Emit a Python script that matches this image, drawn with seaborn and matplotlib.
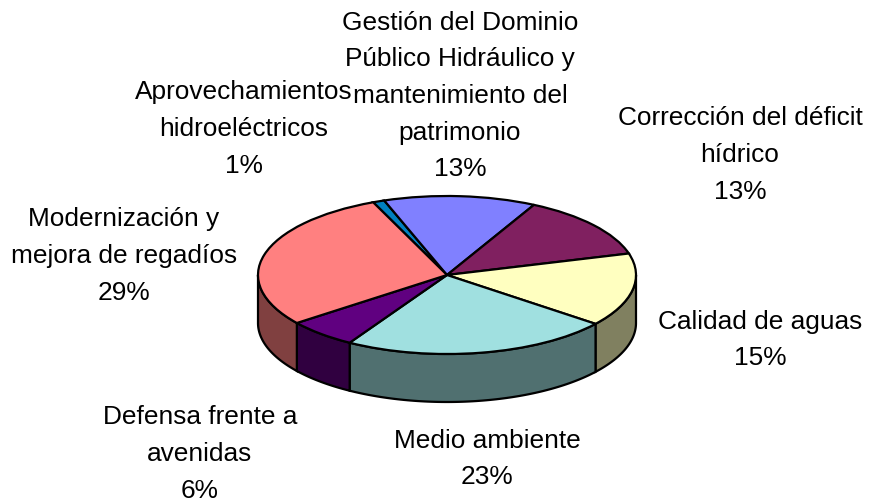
import numpy as np
import matplotlib
matplotlib.use("Agg")
import matplotlib.pyplot as plt
import seaborn as sns
from matplotlib.patches import Polygon

names = ["Aprovechamientos\nhidroeléctricos",
         "Gestión del Dominio\nPúblico Hidráulico y\nmantenimiento del\npatrimonio",
         "Corrección del déficit\nhídrico",
         "Calidad de aguas",
         "Medio ambiente",
         "Defensa frente a\navenidas",
         "Modernización y\nmejora de regadíos"]
values = [1, 13, 13, 15, 23, 6, 29]
hex_colors = ["#0080C0", "#8080FF", "#802060", "#FFFFC0", "#A0E0E0", "#600080", "#FF8080"]
label_x = [244, 460, 740, 760, 487, 200, 124]
label_y = [129, 96, 155, 340, 459, 454, 256]

sns.set_theme(style="white")
plt.rcParams["font.family"] = ["Liberation Sans", "DejaVu Sans"]
palette = sns.color_palette(hex_colors)

W, H = 869, 501
CX, CY, A, B, DEPTH = 447, 275, 189, 79, 48

fig = plt.figure(figsize=(W / 100, H / 100), dpi=100, facecolor="white")
ax = fig.add_axes([0, 0, 1, 1])
wedges, _ = ax.pie(values, colors=palette, startangle=113, counterclock=False,
                   wedgeprops=dict(edgecolor="black", linewidth=1.6, zorder=3))
ax.set_aspect("auto")
ax.set_xlim(-CX / A, (W - CX) / A)
ax.set_ylim((CY - H) / B, CY / B)
ax.axis("off")

d = DEPTH / B
for w, col in zip(wedges, palette):
    dark = tuple(c * 0.5 for c in col)
    for k in (-360, 0, 360):
        t1 = max(w.theta1 + k, 180)
        t2 = min(w.theta2 + k, 360)
        if t2 > t1:
            t = np.radians(np.linspace(t1, t2, 80))
            top = np.column_stack([np.cos(t), np.sin(t)])
            bot = (top - [0, d])[::-1]
            ax.add_patch(Polygon(np.vstack([top, bot]), closed=True, facecolor=dark,
                                 edgecolor="black", linewidth=1.6, zorder=2))

for name, v, x, y in zip(names, values, label_x, label_y):
    fig.text(x / W, 1 - y / H, f"{name}\n{v}%", ha="center", va="center",
             fontsize=18.9, color="black", linespacing=1.66, multialignment="center")

fig.savefig("out.png", dpi=100)
